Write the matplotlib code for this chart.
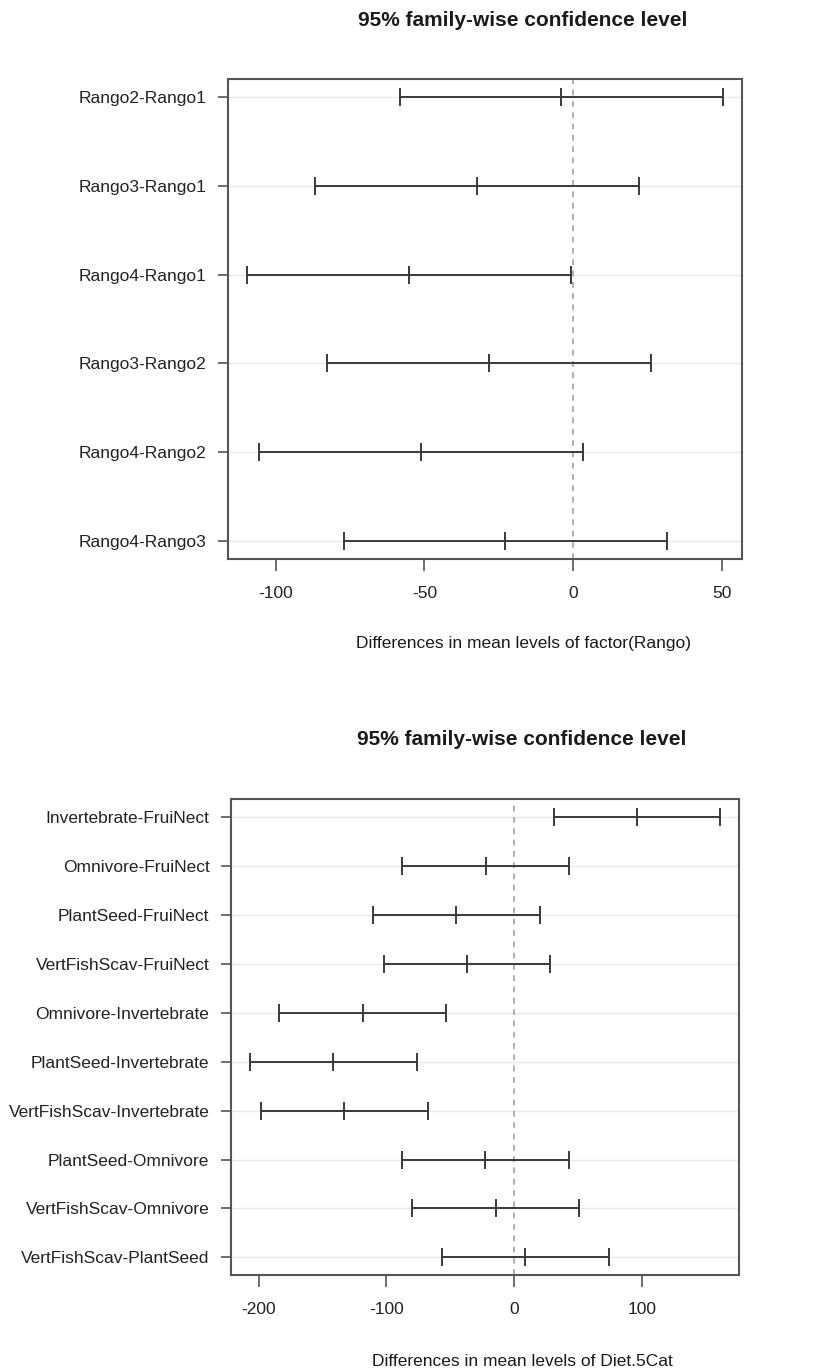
import matplotlib
matplotlib.use("Agg")
import matplotlib.pyplot as plt
import numpy as np

plt.rcParams['font.family'] = ['Liberation Sans', 'DejaVu Sans']

# ---- data: top panel (factor(Rango)) ----
labels1 = ['Rango2-Rango1', 'Rango3-Rango1', 'Rango4-Rango1',
           'Rango3-Rango2', 'Rango4-Rango2', 'Rango4-Rango3']
diff1 = [-3.9, -32.3, -55.2, -28.4, -51.2, -22.8]
lwr1 = [-58.3, -86.7, -109.6, -82.8, -105.5, -77.1]
upr1 = [50.4, 22.1, -0.8, 26.1, 3.3, 31.7]
xticks1 = [-100, -50, 0, 50]
xlabel1 = 'Differences in mean levels of factor(Rango)'

# ---- data: bottom panel (Diet.5Cat) ----
labels2 = ['Invertebrate-FruiNect', 'Omnivore-FruiNect', 'PlantSeed-FruiNect',
           'VertFishScav-FruiNect', 'Omnivore-Invertebrate', 'PlantSeed-Invertebrate',
           'VertFishScav-Invertebrate', 'PlantSeed-Omnivore', 'VertFishScav-Omnivore',
           'VertFishScav-PlantSeed']
diff2 = [96.0, -22.4, -45.6, -37.0, -118.4, -141.6, -133.3, -22.9, -14.3, 8.4]
lwr2 = [31.1, -87.6, -110.8, -102.2, -183.9, -206.8, -198.4, -88.1, -79.8, -56.6]
upr2 = [161.2, 42.8, 19.8, 28.2, -53.2, -76.4, -67.8, 42.5, 50.9, 73.9]
xticks2 = [-200, -100, 0, 100]
xlabel2 = 'Differences in mean levels of Diet.5Cat'

title = '95% family-wise confidence level'

W, H = 813, 1370
fig = plt.figure(figsize=(W / 100, H / 100), dpi=100)

def rect(l, t, r, b):
    return [l / W, 1 - b / H, (r - l) / W, (b - t) / H]

LINE = '#3a3a3a'
FRAME = '#555555'

def panel(ax, labels, diff, lwr, upr, xticks):
    k = len(labels)
    y = np.arange(k, 0, -1)
    lo, hi = min(lwr), max(upr)
    r = hi - lo
    ax.set_xlim(lo - 0.04 * r, hi + 0.04 * r)
    ax.set_ylim(1 - 0.04 * (k - 1), k + 0.04 * (k - 1))
    for yy in y:
        ax.axhline(yy, color='#e9e9e9', lw=1.0, zorder=0)
    ax.axvline(0, color='#9a9a9a', lw=1.1, ls=(0, (3.8, 3.6)), zorder=1)
    ax.hlines(y, lwr, upr, color=LINE, lw=1.4, zorder=2)
    for vals in (lwr, diff, upr):
        ax.plot(vals, y, ls='none', marker='|', ms=13, mew=1.4, color=LINE, zorder=3)
    ax.set_yticks(y)
    ax.set_yticklabels(labels)
    ax.set_xticks(xticks)
    ax.set_xticklabels([str(t) for t in xticks])
    ax.tick_params(axis='y', length=7.5, width=1.2, color=FRAME, pad=8, labelsize=12.5,
                   labelcolor='#222222')
    ax.tick_params(axis='x', length=8.6, width=1.2, color=FRAME, pad=11, labelsize=12.5,
                   labelcolor='#222222')
    for s in ax.spines.values():
        s.set_color(FRAME)
        s.set_linewidth(1.5)

ax1 = fig.add_axes(rect(228, 79, 742, 559))
panel(ax1, labels1, diff1, lwr1, upr1, xticks1)
ax2 = fig.add_axes(rect(231, 799.3, 739.3, 1275))
panel(ax2, labels2, diff2, lwr2, upr2, xticks2)

def ftext(x, y, s, **kw):
    fig.text(x / W, 1 - y / H, s, ha='center', va='baseline', color='#1a1a1a', **kw)

ftext(523, 25.5, title, fontsize=15, fontweight='bold')
ftext(523, 648, xlabel1, fontsize=12.5)
ftext(522, 745, title, fontsize=15, fontweight='bold')
ftext(522, 1366, xlabel2, fontsize=12.5)

fig.savefig('out.png', dpi=100)
